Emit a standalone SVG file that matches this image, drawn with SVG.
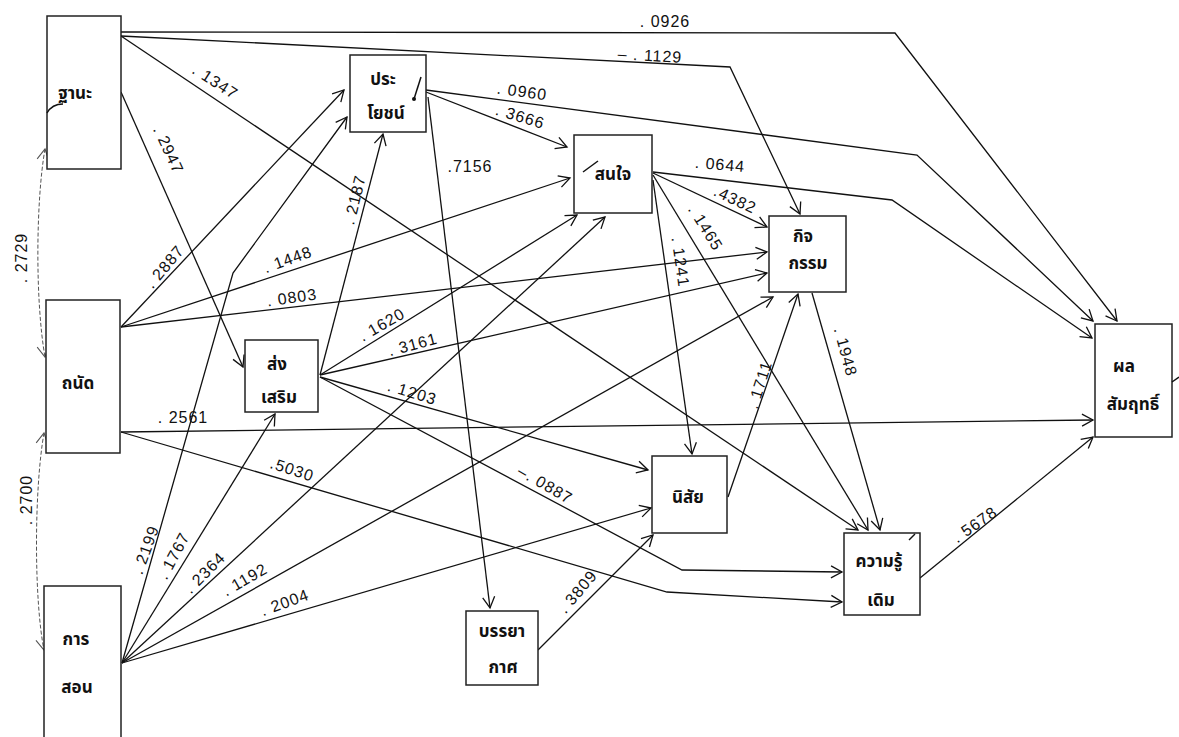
<svg xmlns="http://www.w3.org/2000/svg" width="1179" height="737" viewBox="0 0 1179 737">
<defs>
<marker id="arr" markerUnits="userSpaceOnUse" markerWidth="14" markerHeight="14" refX="12" refY="7" orient="auto">
<path d="M1,1 L12,7 L1,13" fill="none" stroke="#111" stroke-width="1.3"/>
</marker>
<marker id="arrS" markerUnits="userSpaceOnUse" markerWidth="14" markerHeight="14" refX="12" refY="7" orient="auto-start-reverse">
<path d="M1,1 L12,7 L1,13" fill="none" stroke="#555" stroke-width="1.1"/>
</marker>
<style>
.box{fill:#fff;stroke:#222;stroke-width:1.5}
.lbl{font-family:"Noto Sans Thai","Noto Sans","DejaVu Sans",sans-serif;font-size:17px;font-weight:bold;fill:#111;text-anchor:middle}
.c{fill:none;stroke:#111;stroke-width:1.3;marker-end:url(#arr)}
.cor{fill:none;stroke:#555;stroke-width:1;stroke-dasharray:4 2;marker-start:url(#arrS);marker-end:url(#arrS)}
.num{font-family:"Liberation Sans",Arial,sans-serif;font-size:16px;fill:#111;text-anchor:middle;letter-spacing:1px}
.mark{fill:none;stroke:#111;stroke-width:1.5}
</style>
</defs>
<rect width="1179" height="737" fill="#fff"/>

<g id="connectors">
<path class="c" d="M121,32 L895,33 L1117,321"/>
<path class="c" d="M121,36 L730,67 L800,214"/>
<path class="c" d="M121,36 L858,530"/>
<path class="c" d="M121,92 L243,367"/>
<path class="c" d="M121,327 L344,90"/>
<path class="c" d="M121,327 L570,178"/>
<path class="c" d="M121,327 L767,252"/>
<path class="c" d="M121,432 L1093,420"/>
<path class="c" d="M121,432 L667,592 L842,602"/>
<path class="c" d="M122,663 L233,273 L347,117"/>
<path class="c" d="M122,663 L275,414"/>
<path class="c" d="M122,663 L605,217"/>
<path class="c" d="M122,663 L773,297"/>
<path class="c" d="M122,663 L651,508"/>
<path class="c" d="M426,90 L917,155 L1093,321"/>
<path class="c" d="M426,92 L567,147"/>
<path class="c" d="M428,97 L490,608"/>
<path class="c" d="M320,375 L383,134"/>
<path class="c" d="M320,375 L577,215"/>
<path class="c" d="M320,375 L767,273"/>
<path class="c" d="M320,377 L648,470"/>
<path class="c" d="M320,377 L682,570 L842,572"/>
<path class="c" d="M653,172 L892,200 L1092,338"/>
<path class="c" d="M653,173 L767,227"/>
<path class="c" d="M653,175 L868,530"/>
<path class="c" d="M653,180 L692,454"/>
<path class="c" d="M812,293 L880,530"/>
<path class="c" d="M728,497 L798,294"/>
<path class="c" d="M538,650 L653,535"/>
<path class="c" d="M920,578 L1093,437"/>
<path class="cor" d="M45,149 C36,200 35,300 45,357"/>
<path class="cor" d="M44,433 C34,490 34,600 44,650"/>

<text class="num" x="665" y="27">. 0926</text>
<text class="num" x="650" y="61" transform="rotate(3 650 56)">– . 1129</text>
<text class="num" x="215" y="87" transform="rotate(33 215 82)">. 1347</text>
<text class="num" x="168" y="155" transform="rotate(65 168 150)">. 2947</text>
<text class="num" x="522" y="97" transform="rotate(8 522 92)">. 0960</text>
<text class="num" x="520" y="122" transform="rotate(17 520 117)">. 3666</text>
<text class="num" x="470" y="172">.7156</text>
<text class="num" x="355" y="205" transform="rotate(-76 355 200)">. 2187</text>
<text class="num" x="720" y="170" transform="rotate(5 720 165)">. 0644</text>
<text class="num" x="735" y="205" transform="rotate(25 735 200)">.4382</text>
<text class="num" x="705" y="233" transform="rotate(58 705 228)">. 1465</text>
<text class="num" x="680" y="267" transform="rotate(82 680 262)">. 1241</text>
<text class="num" x="165" y="272" transform="rotate(-50 165 267)">. 2887</text>
<text class="num" x="288" y="265" transform="rotate(-20 288 260)">. 1448</text>
<text class="num" x="292" y="303" transform="rotate(-8 292 298)">. 0803</text>
<text class="num" x="183" y="423">. 2561</text>
<text class="num" x="292" y="475" transform="rotate(18 292 470)">.5030</text>
<text class="num" x="382" y="330" transform="rotate(-30 382 325)">. 1620</text>
<text class="num" x="413" y="350" transform="rotate(-15 413 345)">. 3161</text>
<text class="num" x="412" y="398" transform="rotate(17 412 393)">. 1203</text>
<text class="num" x="545" y="490" transform="rotate(30 545 485)">–. 0887</text>
<text class="num" x="146" y="555" transform="rotate(-70 146 550)">. 2199</text>
<text class="num" x="174" y="561" transform="rotate(-62 174 556)">. 1767</text>
<text class="num" x="205" y="578" transform="rotate(-45 205 573)">. 2364</text>
<text class="num" x="245" y="585" transform="rotate(-30 245 580)">. 1192</text>
<text class="num" x="285" y="608" transform="rotate(-20 285 603)">. 2004</text>
<text class="num" x="760" y="390" transform="rotate(-72 760 385)">. 1711</text>
<text class="num" x="845" y="357" transform="rotate(75 845 352)">. 1948</text>
<text class="num" x="578" y="597" transform="rotate(-50 578 592)">. 3809</text>
<text class="num" x="975" y="530" transform="rotate(-35 975 525)">. 5678</text>
<text class="num" x="22" y="263" transform="rotate(-90 22 258)">. 2729</text>
<text class="num" x="27" y="505" transform="rotate(-90 27 500)">. 2700</text>
</g>

<g id="n_status">
<rect class="box" x="47" y="16" width="74" height="153"/>
<text class="lbl" x="75" y="99">ฐานะ</text>
<path class="mark" d="M47,113 Q52,104 63,104"/>
</g>
<g id="n_aptitude">
<rect class="box" x="46" y="300" width="74" height="153"/>
<text class="lbl" x="78" y="389">ถนัด</text>
</g>
<g id="n_teaching">
<rect class="box" x="44" y="586" width="77" height="160"/>
<text class="lbl" x="76" y="645">การ</text>
<text class="lbl" x="77" y="693">สอน</text>
</g>
<g id="n_benefit">
<rect class="box" x="350" y="55" width="76" height="77"/>
<text class="lbl" x="383" y="85">ประ</text>
<text class="lbl" x="386" y="119">โยชน์</text>
<path class="mark" d="M421,77 L414,99"/>
<circle cx="414" cy="99" r="2" fill="#111"/>
</g>
<g id="n_interest">
<rect class="box" x="574" y="135" width="78" height="78"/>
<text class="lbl" x="613" y="180">สนใจ</text>
<path class="mark" d="M583,172 L598,161"/>
</g>
<g id="n_activity">
<rect class="box" x="769" y="216" width="77" height="76"/>
<text class="lbl" x="803" y="242">กิจ</text>
<text class="lbl" x="808" y="269">กรรม</text>
</g>
<g id="n_support">
<rect class="box" x="245" y="340" width="73" height="72"/>
<text class="lbl" x="277" y="370">ส่ง</text>
<text class="lbl" x="279" y="403">เสริม</text>
</g>
<g id="n_habit">
<rect class="box" x="652" y="456" width="75" height="77"/>
<text class="lbl" x="688" y="503">นิสัย</text>
</g>
<g id="n_prior">
<rect class="box" x="844" y="533" width="76" height="82"/>
<text class="lbl" x="879" y="567">ความรู้</text>
<text class="lbl" x="881" y="606">เดิม</text>
<path class="mark" d="M909,540 L915,534"/>
</g>
<g id="n_climate">
<rect class="box" x="466" y="611" width="72" height="74"/>
<text class="lbl" x="502" y="637">บรรยา</text>
<text class="lbl" x="503" y="673">กาศ</text>
</g>
<g id="n_achieve">
<rect class="box" x="1095" y="324" width="77" height="113"/>
<text class="lbl" x="1124" y="372">ผล</text>
<text class="lbl" x="1133" y="410">สัมฤทธิ์</text>
<path class="mark" d="M1172,382 L1179,377"/>
</g>
</svg>
